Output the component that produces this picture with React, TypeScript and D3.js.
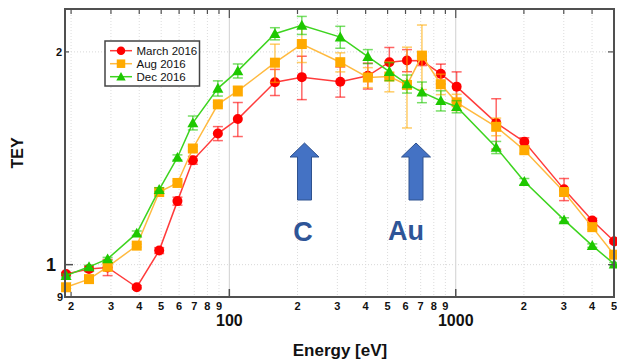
import React from "react";
import * as d3 from "d3";

// Photon energies in eV (shared by all three campaigns)
const energy = [19, 24, 29, 39, 49, 59, 69, 89, 109, 159, 209, 309, 409, 509, 609, 709, 859, 1009, 1509, 2009, 3009, 4009, 5009];

const march = [0.970, 0.986, 0.991, 0.929, 1.047, 1.230, 1.405, 1.533, 1.607, 1.812, 1.842, 1.815, 1.850, 1.934, 1.945, 1.943, 1.862, 1.786, 1.587, 1.492, 1.278, 1.155, 1.079];
const marchErr = [0.005, 0.008, 0.026, 0.005, 0.010, 0.016, 0.018, 0.035, 0.089, 0.077, 0.130, 0.089, 0.078, 0.095, 0.070, 0.030, 0.060, 0.088, 0.130, 0.020, 0.046, 0.008, 0.006];

const aug = [0.929, 0.954, 0.993, 1.064, 1.267, 1.305, 1.460, 1.686, 1.761, 1.931, 2.052, 1.934, 1.840, 1.846, 1.796, 1.976, 1.800, 1.697, 1.567, 1.452, 1.267, 1.130, 1.033];
const augErr = [0.005, 0.005, 0.010, 0.005, 0.008, 0.008, 0.010, 0.010, 0.029, 0.120, 0.120, 0.060, 0.060, 0.090, 0.235, 0.207, 0.060, 0.045, 0.045, 0.015, 0.013, 0.008, 0.006];

const dec = [0.965, 0.993, 1.019, 1.108, 1.277, 1.418, 1.587, 1.776, 1.880, 2.122, 2.181, 2.099, 1.970, 1.876, 1.802, 1.754, 1.706, 1.673, 1.465, 1.311, 1.157, 1.064, 1.002];
const decErr = [0.005, 0.005, 0.005, 0.008, 0.008, 0.012, 0.036, 0.044, 0.043, 0.042, 0.064, 0.075, 0.045, 0.055, 0.053, 0.059, 0.056, 0.033, 0.029, 0.013, 0.008, 0.006, 0.005];

const xTicks = [20, 30, 40, 50, 60, 70, 80, 90, 100, 200, 300, 400, 500, 600, 700, 800, 900, 1000, 2000, 3000, 4000, 5000];
const xMajor = [100, 1000];
const yGrid = [1, 2];

const series = [
  { name: "March 2016", values: march, err: marchErr, color: "#ff0000", line: "#ff3b3b", shape: "circle" },
  { name: "Aug 2016", values: aug, err: augErr, color: "#ffaa00", line: "#ffba40", shape: "square" },
  { name: "Dec 2016", values: dec, err: decErr, color: "#1ec800", line: "#3ed420", shape: "triangle" },
];

const W = 617, H = 360;
const m = { left: 65, right: 614, top: 9, bottom: 297 };
const font = "'Liberation Sans', Arial, sans-serif";

function Marker({ shape, x, y, color, s = 1 }: { shape: string; x: number; y: number; color: string; s?: number }) {
  if (shape === "circle") return <circle cx={x} cy={y} r={5 * s} fill={color} />;
  if (shape === "square") return <rect x={x - 5 * s} y={y - 5 * s} width={10 * s} height={10 * s} fill={color} />;
  const h = 5.5 * s;
  return <path d={`M${x},${y - h}L${x + h},${y + h * 0.8}L${x - h},${y + h * 0.8}Z`} fill={color} />;
}

function Arrow({ cx }: { cx: number }) {
  const top = 143, neck = 157, bot = 200;
  const hw = 14.5, sw = 7;
  const d = `M${cx},${top}L${cx + hw},${neck}L${cx + sw},${neck}L${cx + sw},${bot}L${cx - sw},${bot}L${cx - sw},${neck}L${cx - hw},${neck}Z`;
  return <path d={d} fill="#4472c4" stroke="#2f528f" strokeWidth={1} />;
}

export default function App() {
  const x = d3.scaleLog().domain([18.8, 5000]).range([m.left, m.right]);
  const y = d3.scaleLog().domain([0.9, 2.3]).range([m.bottom, m.top]);
  const line = d3.line<number>().x((_, i) => x(energy[i])).y((v) => y(v));

  return (
    <svg width={W} height={H} style={{ position: "absolute", left: 0, top: 0, background: "#fff" }} fontFamily={font}>
      {/* grid */}
      {xTicks.map((t) => (
        <line key={"gx" + t} x1={x(t)} x2={x(t)} y1={m.top} y2={m.bottom}
          stroke={xMajor.includes(t) ? "#d0d0d0" : "#dcdcdc"} strokeWidth={1}
          strokeDasharray={xMajor.includes(t) ? undefined : "1,2"} />
      ))}
      {yGrid.map((t) => (
        <line key={"gy" + t} x1={m.left} x2={m.right} y1={y(t)} y2={y(t)} stroke="#d8d8d8" strokeDasharray="1,2" />
      ))}

      {/* arrows and labels */}
      <Arrow cx={304.5} />
      <Arrow cx={416} />
      <text x={303} y={241} textAnchor="middle" fontSize={27} fontWeight="bold" fill="#2e5597">C</text>
      <text x={406} y={240} textAnchor="middle" fontSize={27} fontWeight="bold" fill="#2e5597">Au</text>

      {/* data */}
      {series.map((s) => (
        <g key={s.name}>
          <path d={line(s.values) || ""} fill="none" stroke={s.line} strokeWidth={1.5} />
          {s.values.map((v, i) => {
            const cx = x(energy[i]);
            const y1 = y(v + s.err[i]);
            const y2 = y(v - s.err[i]);
            return (
              <g key={i} stroke={s.color} strokeOpacity={0.6} strokeWidth={1.5}>
                <line x1={cx} x2={cx} y1={y1} y2={y2} />
                <line x1={cx - 5} x2={cx + 5} y1={y1} y2={y1} />
                <line x1={cx - 5} x2={cx + 5} y1={y2} y2={y2} />
              </g>
            );
          })}
          {s.values.map((v, i) => (
            <Marker key={"m" + i} shape={s.shape} x={x(energy[i])} y={y(v)} color={s.color} />
          ))}
        </g>
      ))}

      {/* frame */}
      <rect x={m.left} y={m.top} width={m.right - m.left} height={m.bottom - m.top} fill="none" stroke="#505050" strokeWidth={2} />

      {/* top ticks */}
      {xTicks.map((t) => (
        <line key={"tt" + t} x1={x(t)} x2={x(t)} y1={m.top} y2={m.top + (xMajor.includes(t) ? 9 : 5)} stroke="#505050" strokeWidth={1.2} />
      ))}
      {/* bottom major ticks */}
      {xMajor.map((t) => (
        <line key={"bt" + t} x1={x(t)} x2={x(t)} y1={m.bottom} y2={m.bottom - 8} stroke="#505050" strokeWidth={1.5} />
      ))}
      <line x1={x(20)} x2={x(20)} y1={m.bottom} y2={m.bottom - 5} stroke="#505050" strokeWidth={1.2} />
      {/* y ticks */}
      <line x1={m.left} x2={m.left + 8} y1={y(1)} y2={y(1)} stroke="#505050" strokeWidth={1.5} />
      <line x1={m.left} x2={m.left + 4} y1={y(2)} y2={y(2)} stroke="#505050" strokeWidth={1.2} />
      {yGrid.map((t) => (
        <line key={"rt" + t} x1={m.right} x2={m.right - 6} y1={y(t)} y2={y(t)} stroke="#505050" strokeWidth={1.2} />
      ))}

      {/* x tick labels */}
      {xTicks.map((t) =>
        xMajor.includes(t) ? (
          <text key={"xl" + t} x={x(t)} y={326} textAnchor="middle" fontSize={16} fontWeight="bold" fill="#111">{t}</text>
        ) : (
          <text key={"xl" + t} x={x(t)} y={310} textAnchor="middle" fontSize={11} fontWeight="bold" fill="#111">
            {String(t)[0]}
          </text>
        )
      )}
      {/* y tick labels */}
      <text x={56} y={y(1) + 6.5} textAnchor="end" fontSize={18} fontWeight="bold" fill="#111">1</text>
      <text x={62} y={y(2) + 4} textAnchor="end" fontSize={11} fontWeight="bold" fill="#111">2</text>
      <text x={63} y={y(0.9) + 4} textAnchor="end" fontSize={11} fontWeight="bold" fill="#111">9</text>

      {/* axis titles */}
      <text x={340} y={356} textAnchor="middle" fontSize={17} fontWeight="bold" fill="#111">Energy [eV]</text>
      <text transform={`translate(23,153) rotate(-90)`} textAnchor="middle" fontSize={16} fontWeight="bold" fill="#111">TEY</text>

      {/* legend */}
      <rect x={105} y={41} width={94.5} height={45} fill="#fff" stroke="#444" strokeWidth={1.5} />
      {series.map((s, i) => {
        const ly = 50.7 + i * 13;
        return (
          <g key={"lg" + s.name}>
            <line x1={110} x2={132} y1={ly} y2={ly} stroke={s.line} strokeWidth={1.5} />
            <Marker shape={s.shape} x={121} y={ly} color={s.color} s={0.85} />
            <text x={136.5} y={ly + 4} fontSize={11.5} fill="#111">{s.name}</text>
          </g>
        );
      })}
    </svg>
  );
}
